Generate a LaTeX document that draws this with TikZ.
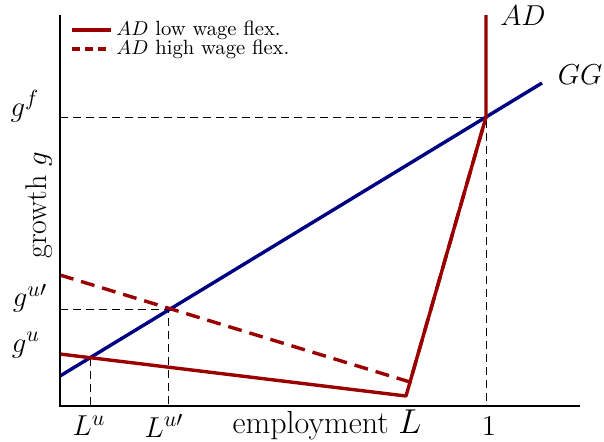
\documentclass[tikz,border=0pt]{standalone}
\usetikzlibrary{calc}
\definecolor{adred}{RGB}{155,0,0}
\definecolor{ggblue}{RGB}{0,0,130}
\begin{document}
\begin{tikzpicture}[x=0.5pt,y=-0.5pt,
  axis/.style={line width=1.4pt},
  adline/.style={adred,line width=1.7pt,line join=round},
  addash/.style={adred,line width=1.7pt,dash pattern=on 7pt off 4pt},
  ggline/.style={ggblue,line width=1.7pt},
  guide/.style={line width=0.4pt,dash pattern=on 4pt off 2.5pt},
  lab/.style={font=\fontsize{15}{18}\selectfont,inner sep=0pt},
  leg/.style={font=\fontsize{10.3}{13}\selectfont,inner sep=0pt,anchor=west,text height=7pt,text depth=1.5pt}]
\useasboundingbox (0,0) rectangle (604,441);
% key points
\coordinate (O) at (60,406);
\coordinate (ytop) at (60,15);
\coordinate (xend) at (580,406);
\coordinate (F) at (486,117);
\coordinate (ADtop) at (486,15);
\coordinate (K1) at (406,396);
\coordinate (S0) at (60,354);
\coordinate (K2) at (410,382);
\coordinate (D0) at (60,275);
\coordinate (G0) at (60,376);
\coordinate (G1) at (542,83);
\coordinate (Pu) at (90,358);
\coordinate (Pup) at (168,309);
\coordinate (Xu) at (90,406);
\coordinate (Xup) at (168,406);
\coordinate (X1) at (486,406);
\coordinate (Yup) at (60,309);
\coordinate (Yf) at (60,117);
% guides
\draw[guide] (Yf) -- (F) -- (X1);
\draw[guide] (Yup) -- (Pup) -- (Xup);
\draw[guide] (Pu) -- (Xu);
% curves
\draw[ggline] (G0) -- (G1);
\draw[addash] (D0) -- (K2) -- (F);
\draw[adline] (S0) -- (K1) -- (F) -- (ADtop);
% axes
\draw[axis] (ytop) -- (O) -- (xend);
% labels
\node[lab] (gf) at (25,106) {$g^f$};
\node[lab] (gup) at (30,298) {$g^{u\prime}$};
\node[lab] (gu) at (26,345) {$g^u$};
\node[lab,rotate=90] (gy) at (39,205) {growth $g$};
\node[lab] (lu) at (89,426) {$L^u$};
\node[lab] (lup) at (164,426) {$L^{u\prime}$};
\node[lab,font=\fontsize{16}{19}\selectfont] (emp) at (327,425) {employment $L$};
\node[lab] (one) at (489,426) {$1$};
\node[lab] (adl) at (523,16) {$AD$};
\node[lab] (ggl) at (580,75) {$GG$};
% legend
\coordinate (l1a) at (72,30);
\coordinate (l1b) at (111,30);
\coordinate (l2a) at (72,49);
\coordinate (l2b) at (111,49);
\draw[adline] (l1a) -- (l1b);
\draw[adred,line width=1.7pt,dash pattern=on 4pt off 2.5pt] (l2a) -- (l2b);
\node[leg] (t1) at (116,30) {$AD$ low wage flex.};
\node[leg] (t2) at (116,49) {$AD$ high wage flex.};
\end{tikzpicture}
\end{document}
